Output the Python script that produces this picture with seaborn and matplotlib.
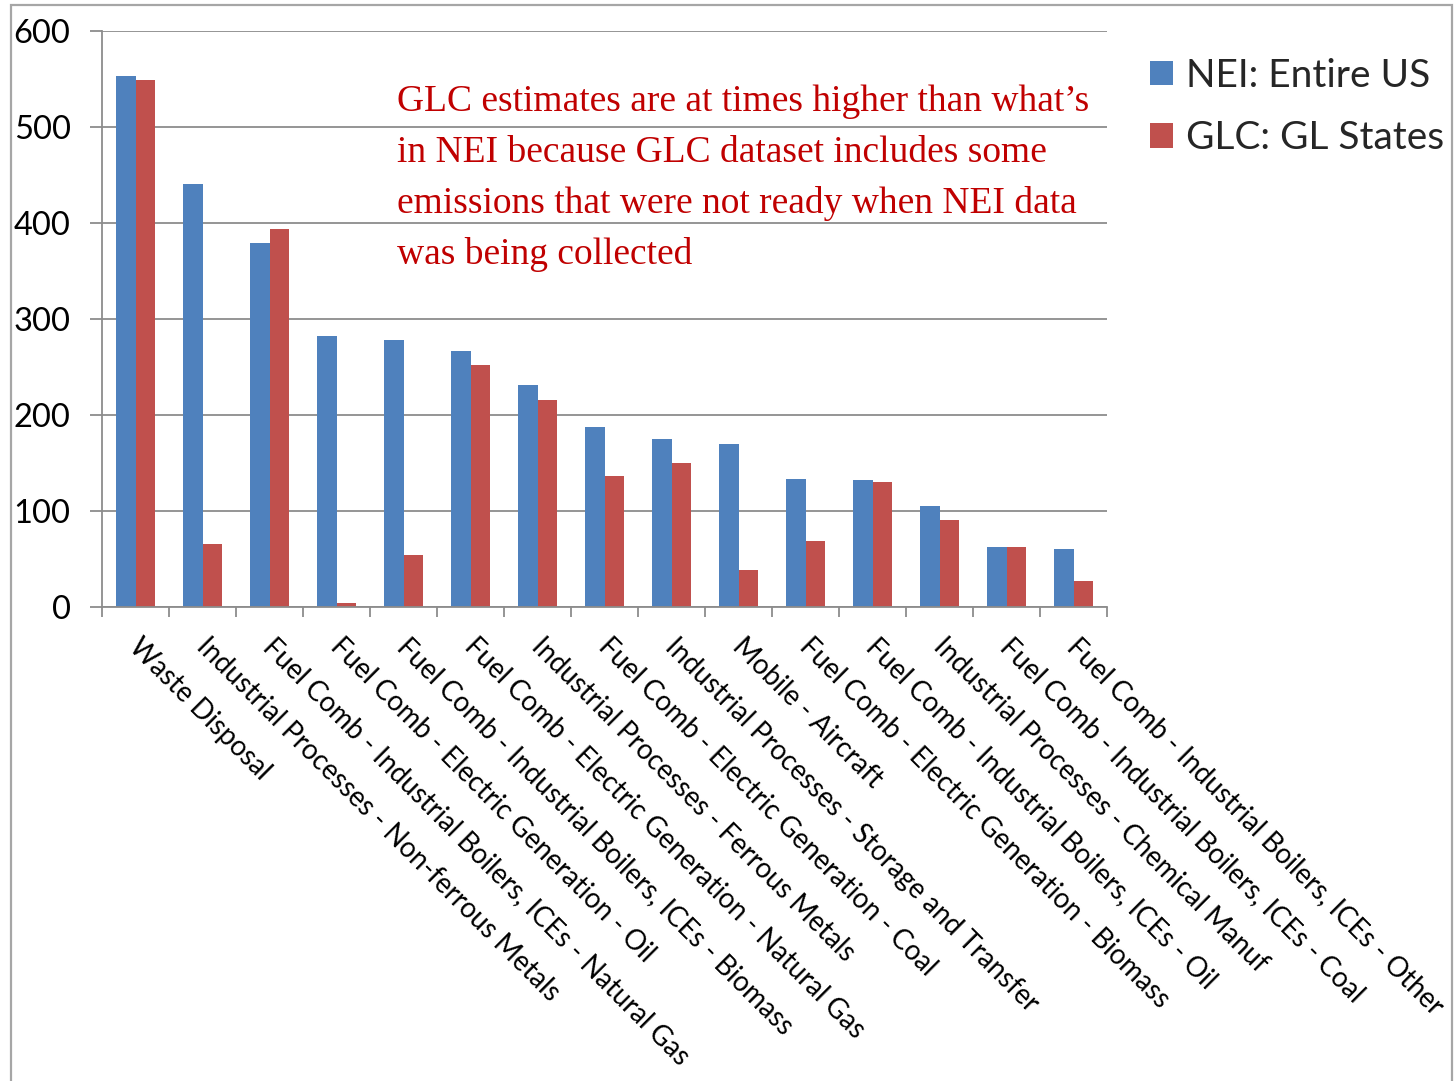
import matplotlib
matplotlib.use("Agg")
import matplotlib.pyplot as plt
import matplotlib.transforms as mtransforms
from matplotlib.patches import Rectangle
import pandas as pd
import seaborn as sns

categories = [
    "Waste Disposal",
    "Industrial Processes - Non-ferrous Metals",
    "Fuel Comb - Industrial Boilers, ICEs - Natural Gas",
    "Fuel Comb - Electric Generation - Oil",
    "Fuel Comb - Industrial Boilers, ICEs - Biomass",
    "Fuel Comb - Electric Generation - Natural Gas",
    "Industrial Processes - Ferrous Metals",
    "Fuel Comb - Electric Generation - Coal",
    "Industrial Processes - Storage and Transfer",
    "Mobile - Aircraft",
    "Fuel Comb - Electric Generation - Biomass",
    "Fuel Comb - Industrial Boilers, ICEs - Oil",
    "Industrial Processes - Chemical Manuf",
    "Fuel Comb - Industrial Boilers, ICEs - Coal",
    "Fuel Comb - Industrial Boilers, ICEs - Other",
]
nei_entire_us = [553, 441, 379, 282, 278, 267, 231, 188, 175, 170, 133, 132, 105, 63, 60]
glc_gl_states = [549, 66, 394, 4, 54, 252, 216, 136, 150, 39, 69, 130, 91, 63, 27]
series_names = ["NEI: Entire US", "GLC: GL States"]
y_ticks = [0, 100, 200, 300, 400, 500, 600]

note_lines = [
    "GLC estimates are at times higher than what\u2019s",
    "in NEI because GLC dataset includes some",
    "emissions that were not ready when NEI data",
    "was being collected",
]

df = pd.DataFrame({
    "category": categories * 2,
    "value": nei_entire_us + glc_gl_states,
    "series": [series_names[0]] * len(categories) + [series_names[1]] * len(categories),
})

sns.set_style("white")
plt.rcParams["font.family"] = ["Lato", "DejaVu Sans"]

W, H = 1456, 1081
fig = plt.figure(figsize=(W / 100, H / 100), dpi=100)
ax = fig.add_axes([102 / W, 1 - 607 / H, (1107 - 102) / W, (607 - 31) / H])

grid_color = "#8c8c8c"
sns.barplot(
    data=df, x="category", y="value", hue="series",
    palette=["#4F81BD", "#C0504D"], saturation=1, width=0.57,
    errorbar=None, ax=ax, legend=True, linewidth=0,
)

ax.set_xlim(-0.5, len(categories) - 0.5)
ax.set_ylim(0, 600)
ax.set_yticks(y_ticks)
ax.set_yticklabels([str(v) for v in y_ticks], fontsize=23.5, color="black")
ax.set_xlabel("")
ax.set_ylabel("")

ax.yaxis.grid(True, color=grid_color, linewidth=1.3)
ax.set_axisbelow(True)
for side in ("top", "right"):
    ax.spines[side].set_visible(False)
for side in ("left", "bottom"):
    ax.spines[side].set_color(grid_color)
    ax.spines[side].set_linewidth(1.3)

ax.tick_params(axis="y", length=8.6, width=1.3, color=grid_color, pad=14, direction="out", left=True)
ax.set_xticks(range(len(categories)))
ax.set_xticks([i - 0.5 for i in range(len(categories) + 1)], minor=True)
ax.tick_params(axis="x", which="major", length=0, pad=19)
ax.tick_params(axis="x", which="minor", length=7, width=1.3, color=grid_color, direction="out", bottom=True)
ax.set_xticklabels(categories, rotation=-45, ha="left", va="top",
                   rotation_mode="anchor", fontsize=19.8, color="black")
# nudge the slanted category labels a little to the right
shift = mtransforms.ScaledTranslation(7 / 100, 0, fig.dpi_scale_trans)
for lbl in ax.get_xticklabels():
    lbl.set_transform(lbl.get_transform() + shift)

# legend to the right of the plot
handles, labels = ax.get_legend_handles_labels()
ax.legend(handles, labels, loc="upper left", bbox_to_anchor=(1134 / W, 1 - 42 / H),
          bbox_transform=fig.transFigure, frameon=False, fontsize=28,
          handlelength=0.59, handleheight=0.59, handletextpad=0.36,
          labelspacing=0.68, borderaxespad=0)

# annotation in red serif
baselines = [111, 162, 213, 264]
for line, yb in zip(note_lines, baselines):
    fig.text(397 / W, 1 - yb / H, line, fontsize=27, color="#C00000",
             family=["Liberation Serif", "DejaVu Serif"], va="baseline", ha="left")

# outer frame of the chart area
fig.patches.append(Rectangle((11 / W, -0.02), (1452 - 11) / W, 1 - 5 / H + 0.02,
                             transform=fig.transFigure, fill=False,
                             edgecolor="#a6a6a6", linewidth=1.6))

fig.savefig("out.png", dpi=100)
